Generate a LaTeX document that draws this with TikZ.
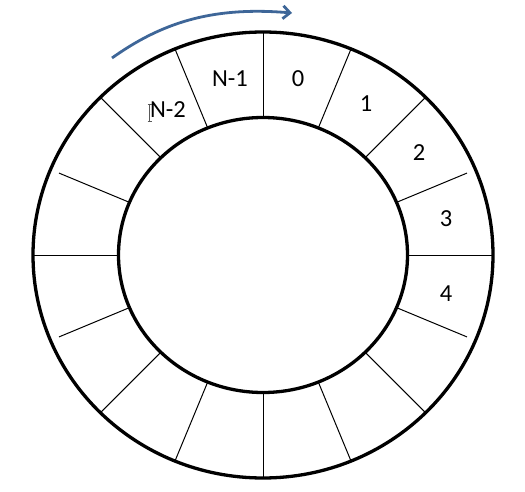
\documentclass[tikz,border=0pt]{standalone}
\usepackage{fontspec}
\setmainfont{Carlito}
\usetikzlibrary{arrows.meta,calc}
\definecolor{arrowblue}{RGB}{62,102,152}
\begin{document}
\begin{tikzpicture}[x=1pt,y=-1pt,
  ring/.style={line width=3.3pt},
  spoke/.style={line width=1pt},
  lbl/.style={font=\fontsize{24.5}{29}\selectfont, inner sep=0pt}]
\useasboundingbox (0,0) rectangle (525,492);
\coordinate (c) at (263,255);
% rings
\draw[ring] (c) ellipse [x radius=230, y radius=223];
\draw[ring] (c) ellipse [x radius=144.5, y radius=137.5];
% spokes (full length)
\foreach \a in {0,45,67.5,90,112.5,135,180,225,247.5,270,292.5,315} {
  \draw[spoke] ($(c)+({144.5*cos(\a)},{-137.5*sin(\a)})$) -- ($(c)+({230*cos(\a)},{-223*sin(\a)})$);
}
% spokes that stop short of the outer ring
\foreach \a in {22.5,157.5,202.5,337.5} {
  \draw[spoke] ($(c)+({144.5*cos(\a)},{-137.5*sin(\a)})$) -- ($(c)+({0.96*230*cos(\a)},{-0.96*223*sin(\a)})$);
}
% labels
\node[lbl] (n1) at (230,79) {N-1};
\node[lbl] (l0) at (298,79) {0};
\node[lbl] (l1) at (366,104) {1};
\node[lbl] (l2) at (419,153) {2};
\node[lbl] (l3) at (446,219) {3};
\node[lbl] (l4) at (446,294) {4};
\node[lbl] (n2) at (168,110) {N-2};
% cursor I-beam
\draw[gray!70!black, line width=0.8pt] (147.5,104) -- (151.5,104) (149.5,104) -- (149.5,121) (147.5,121) -- (151.5,121);
% arrow
\coordinate (as) at (112,58);
\coordinate (ae) at (292,13);
\draw[arrowblue, line width=2.8pt, -{Straight Barb[length=7pt,width=13pt]}]
  (as) .. controls (160,24) and (210,6) .. (ae);
\end{tikzpicture}
\end{document}
